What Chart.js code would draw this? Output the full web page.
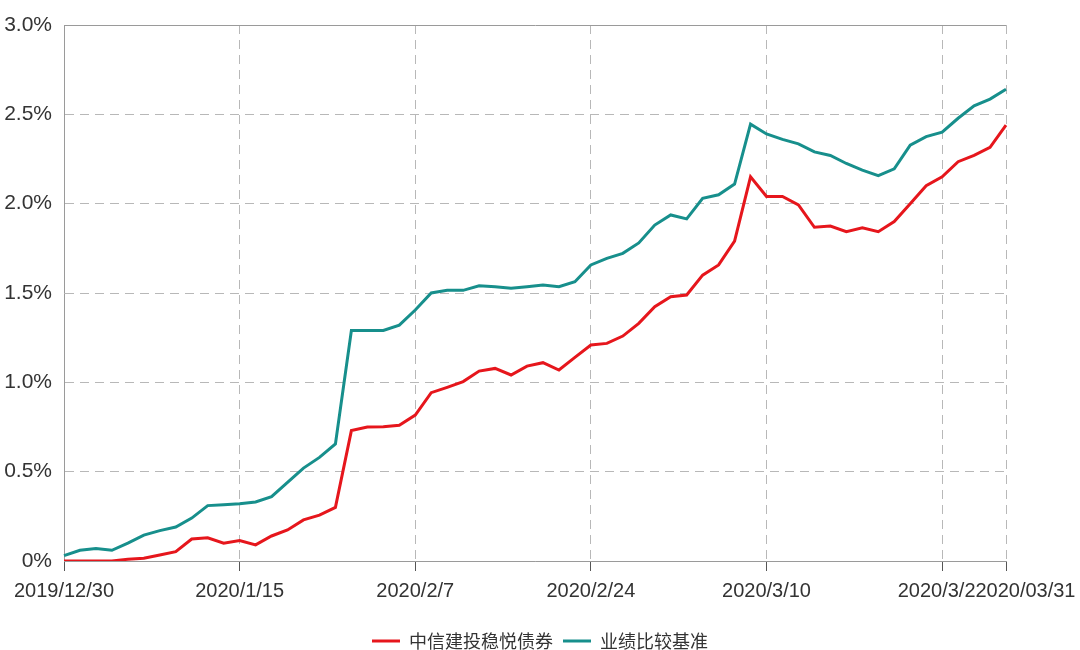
<!DOCTYPE html>
<html>
<head>
<meta charset="utf-8">
<script src="https://cdn.jsdelivr.net/npm/chart.js@4.4.1/dist/chart.umd.min.js"></script>
<style>
    html, body { margin: 0; padding: 0; background: #fff; overflow: hidden; }
    #wrap { width: 1080px; height: 650px; overflow: hidden; }
</style>
</head>
<body>
<div id="wrap"><canvas id="returnChart" width="1080" height="664"></canvas></div>
<script>
// trading days, 2019/12/30 .. 2020/03/31
const tradeDates = [
    "2019/12/30", "2019/12/31", "2020/1/2", "2020/1/3", "2020/1/6", "2020/1/7", "2020/1/8", "2020/1/9", "2020/1/10", "2020/1/13",
    "2020/1/14", "2020/1/15", "2020/1/16", "2020/1/17", "2020/1/20", "2020/1/21", "2020/1/22", "2020/1/23", "2020/2/3", "2020/2/4",
    "2020/2/5", "2020/2/6", "2020/2/7", "2020/2/10", "2020/2/11", "2020/2/12", "2020/2/13", "2020/2/14", "2020/2/17", "2020/2/18",
    "2020/2/19", "2020/2/20", "2020/2/21", "2020/2/24", "2020/2/25", "2020/2/26", "2020/2/27", "2020/2/28", "2020/3/2", "2020/3/3",
    "2020/3/4", "2020/3/5", "2020/3/6", "2020/3/9", "2020/3/10", "2020/3/11", "2020/3/12", "2020/3/13", "2020/3/16", "2020/3/17",
    "2020/3/18", "2020/3/19", "2020/3/20", "2020/3/23", "2020/3/24", "2020/3/25", "2020/3/26", "2020/3/27", "2020/3/30", "2020/03/31"
];

// cumulative return, %
const fundReturns = [
    0.00, 0.00, 0.00, 0.00, 0.01, 0.015, 0.034, 0.052, 0.123, 0.13,
    0.10, 0.114, 0.09, 0.14, 0.174, 0.23, 0.257, 0.30, 0.73, 0.75,
    0.752, 0.76, 0.817, 0.942, 0.972, 1.004, 1.063, 1.078, 1.041, 1.091,
    1.11, 1.069, 1.14, 1.209, 1.218, 1.259, 1.33, 1.423, 1.479, 1.489,
    1.60, 1.657, 1.79, 2.15, 2.04, 2.04, 1.993, 1.868, 1.875, 1.843,
    1.865, 1.843, 1.90, 2.00, 2.10, 2.15, 2.235, 2.27, 2.315, 2.44
];

const benchReturns = [
    0.03, 0.06, 0.07, 0.06, 0.10, 0.145, 0.17, 0.19, 0.24, 0.31,
    0.315, 0.32, 0.33, 0.36, 0.44, 0.52, 0.58, 0.655, 1.29, 1.29,
    1.29, 1.32, 1.405, 1.50, 1.515, 1.515, 1.54, 1.535, 1.526, 1.535,
    1.545, 1.535, 1.563, 1.657, 1.694, 1.722, 1.78, 1.88, 1.937, 1.915,
    2.03, 2.05, 2.11, 2.445, 2.39, 2.36, 2.335, 2.29, 2.27, 2.225,
    2.188, 2.157, 2.195, 2.328, 2.375, 2.40, 2.478, 2.548, 2.585, 2.64
];

const seriesNames = ["中信建投稳悦债券", "业绩比较基准"];
const seriesColors = ["#e6161c", "#178f8c"];
const yMin = 0;
const yMax = 3;
const yStep = 0.5;
const labelEvery = 11;

const lastIdx = tradeDates.length - 1;
const xTickFont = { family: "'Liberation Sans', sans-serif", size: 20 };
const yTickFont = { family: "'Liberation Sans', sans-serif", size: 21 };
const gridGrey = "#b8b8b8";
const frameGrey = "#9a9a9a";
const dash = [9, 6];
// last date label sits a little right of its tick, as in the source
const lastPad = "       ";
const lastPadWidth = 38.9;

document.addEventListener("DOMContentLoaded", () => {
    renderChart();
});

function renderChart() {
    const ctx = document.getElementById("returnChart").getContext("2d");

    new Chart(ctx, {
        type: "line",
        data: {
            labels: tradeDates,
            datasets: [{
                label: seriesNames[0],
                data: fundReturns,
                borderColor: seriesColors[0],
                backgroundColor: seriesColors[0],
                borderWidth: 3,
                pointRadius: 0,
                tension: 0,
                fill: false
            }, {
                label: seriesNames[1],
                data: benchReturns,
                borderColor: seriesColors[1],
                backgroundColor: seriesColors[1],
                borderWidth: 3,
                pointRadius: 0,
                tension: 0,
                fill: false
            }]
        },
        options: {
            responsive: false,
            animation: false,
            devicePixelRatio: 1,
            layout: {
                padding: { top: 25, right: 0, bottom: 4, left: 0 }
            },
            scales: {
                x: {
                    offset: false,
                    afterFit: scale => {
                        scale.height = 61;
                        // right margin comes from yRight, let the last label hang into it
                        scale.paddingRight = 0;
                    },
                    border: {
                        color: frameGrey,
                        dash: c => c.index === lastIdx ? [] : dash
                    },
                    grid: {
                        color: c => c.index === lastIdx ? frameGrey : gridGrey,
                        tickLength: 10,
                        tickColor: c => c.index === lastIdx ? "rgba(255,255,255,0)" : "#555",
                        tickBorderDash: []
                    },
                    ticks: {
                        autoSkip: false,
                        maxRotation: 0,
                        padding: 8,
                        color: "#333",
                        font: xTickFont,
                        // white box behind labels; the last one hides the tail of its neighbour
                        showLabelBackdrop: true,
                        backdropColor: "#ffffff",
                        backdropPadding: { left: 0.5 - lastPadWidth, right: 0, top: 2, bottom: 2 },
                        callback: (value, index) => {
                            if (index === lastIdx)
                                return lastPad + tradeDates[index];
                            return index % labelEvery === 0 ? tradeDates[index] : null;
                        }
                    }
                },
                y: {
                    min: yMin,
                    max: yMax,
                    afterFit: scale => { scale.width = 64; },
                    border: {
                        color: frameGrey,
                        dash: c => (c.index === 0 || c.index === 6) ? [] : dash
                    },
                    grid: {
                        color: c => c.index === 6 ? frameGrey : gridGrey,
                        drawTicks: false
                    },
                    ticks: {
                        stepSize: yStep,
                        padding: 12,
                        color: "#333",
                        font: yTickFont,
                        callback: v => v === 0 ? "0%" : v.toFixed(1) + "%"
                    }
                },
                // empty right-hand axis, only reserves the right margin
                yRight: {
                    position: "right",
                    display: true,
                    afterFit: scale => { scale.width = 74; },
                    border: { display: false },
                    grid: { display: false },
                    ticks: { display: false }
                }
            },
            plugins: {
                tooltip: { enabled: false },
                legend: {
                    position: "bottom",
                    labels: {
                        boxWidth: 28,
                        boxHeight: 3,
                        padding: 10,
                        color: "#333",
                        font: { family: "'Noto Sans CJK SC', sans-serif", size: 18 },
                        generateLabels: chart =>
                            Chart.defaults.plugins.legend.labels.generateLabels(chart)
                                .map(item => ({ ...item, lineWidth: 0 }))
                    }
                }
            }
        }
    });
}
</script>
</body>
</html>
